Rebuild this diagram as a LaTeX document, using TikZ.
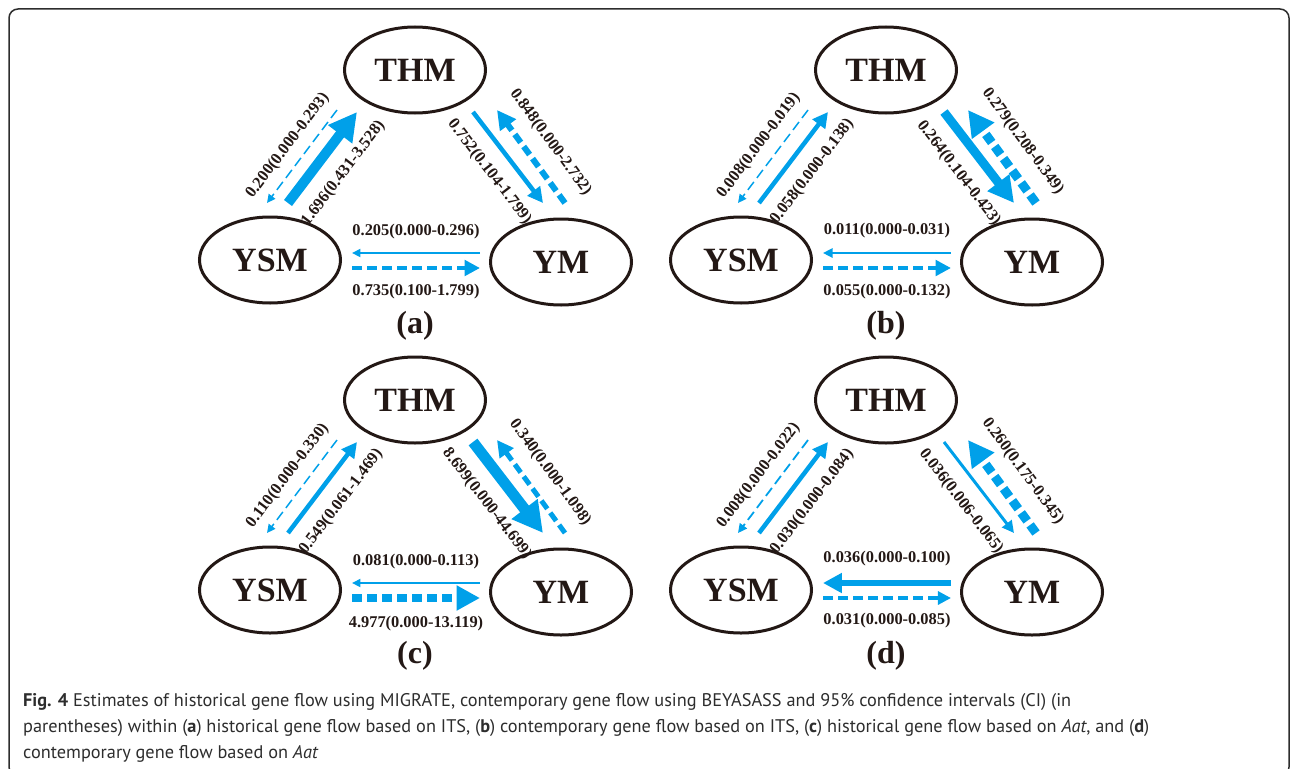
\documentclass[tikz,border=0pt]{standalone}
\usepackage{fontspec}
\setmainfont{Liberation Serif}
\newfontfamily\capfont{PT Sans}
\usetikzlibrary{arrows.meta,calc,shapes.geometric}

\definecolor{flowblue}{RGB}{0,160,233}
\definecolor{inkdark}{RGB}{35,24,21}
\definecolor{capgray}{RGB}{45,45,45}

\tikzset{
	pop/.style={draw=inkdark, ellipse, line width=3pt, minimum width=141pt, minimum height=86pt, inner sep=0pt, text=inkdark, font=\fontsize{34}{40}\selectfont\bfseries},
	flow/.style={draw=flowblue, -{Triangle[length=5pt 2.3, width=4.5pt 2.4]}},
	dashflow/.style={flow, dash pattern=on 10pt off 5pt},
	lab/.style={midway, sloped, inner sep=0pt, text=inkdark, font=\fontsize{16.4}{18}\selectfont\bfseries},
	tag/.style={inner sep=0pt, text=inkdark, font=\fontsize{32}{36}\selectfont\bfseries}
}

% three populations, panel letter and the arrow ends of one panel
\newcommand{\flowpanel}[4]{
	\node[pop] (#1thm) at (415+#2,70+#3) {THM};
	\node[pop] (#1ysm) at (270+#2,260+#3) {YSM};
	\node[pop] (#1ym) at (561+#2,262+#3) {YM};
	\node[tag] (#1tag) at (415+#2,326+#3) {(#4)};
	\coordinate (#1t1) at ($(#1thm)+(-78,40)$);
	\coordinate (#1s1) at ($(#1ysm)+(-3,-57)$);
	\coordinate (#1s2) at ($(#1ysm)+(18,-57)$);
	\coordinate (#1t2) at ($(#1thm)+(-58,42)$);
	\coordinate (#1t3) at ($(#1thm)+(58,42)$);
	\coordinate (#1m1) at ($(#1ym)+(-18,-59)$);
	\coordinate (#1m2) at ($(#1ym)+(4,-59)$);
	\coordinate (#1t4) at ($(#1thm)+(82,40)$);
	\coordinate (#1m3) at ($(#1ym)+(-81,-9)$);
	\coordinate (#1s3) at ($(#1ysm)+(82,-7)$);
	\coordinate (#1s4) at ($(#1ysm)+(82,8)$);
	\coordinate (#1m4) at ($(#1ym)+(-81,6)$);
}

\begin{document}
\begin{tikzpicture}[x=1pt, y=-1pt]
	\useasboundingbox (0,0) rectangle (1292,768);
	\draw[draw=capgray, line width=1.5pt, rounded corners=9pt] (9,9) rectangle (1289,776);

	\flowpanel{a}{0}{0}{a}
	\flowpanel{b}{471}{0}{b}
	\flowpanel{c}{0}{330}{c}
	\flowpanel{d}{471}{330}{d}

	% (a)
	\draw[dashflow, line width=1.5pt] (at1) -- (as1) node[lab, above=9.75pt] (al1) {0.200(0.000-0.293)};
	\draw[flow, line width=10pt] (as2) -- (at2) node[lab, below=13.75pt] (al2) {1.696(0.431-3.528)};
	\draw[flow, line width=4.5pt] (at3) -- (am1) node[lab, below=13.75pt] (al3) {0.752(0.104-1.799)};
	\draw[dashflow, line width=6pt] (am2) -- (at4) node[lab, above=13.75pt] (al4) {0.848(0.000-2.732)};
	\draw[flow, line width=1.5pt] (am3) -- (as3) node[lab, above=13.75pt] (al5) {0.205(0.000-0.296)};
	\draw[dashflow, line width=4.5pt] (as4) -- (am4) node[lab, below=13.75pt] (al6) {0.735(0.100-1.799)};

	% (b)
	\draw[dashflow, line width=1.5pt] (bt1) -- (bs1) node[lab, above=9.75pt] (bl1) {0.008(0.000-0.019)};
	\draw[flow, line width=4.5pt] (bs2) -- (bt2) node[lab, below=13.75pt] (bl2) {0.058(0.000-0.138)};
	\draw[flow, line width=9pt] (bt3) -- (bm1) node[lab, below=13.75pt] (bl3) {0.264(0.104-0.423)};
	\draw[dashflow, line width=9pt] (bm2) -- (bt4) node[lab, above=13.75pt] (bl4) {0.279(0.208-0.349)};
	\draw[flow, line width=2pt] (bm3) -- (bs3) node[lab, above=13.75pt] (bl5) {0.011(0.000-0.031)};
	\draw[dashflow, line width=4.5pt] (bs4) -- (bm4) node[lab, below=13.75pt] (bl6) {0.055(0.000-0.132)};

	% (c)
	\draw[dashflow, line width=1.5pt] (ct1) -- (cs1) node[lab, above=9.75pt] (cl1) {0.110(0.000-0.330)};
	\draw[flow, line width=4.5pt] (cs2) -- (ct2) node[lab, below=13.75pt] (cl2) {0.549(0.061-1.469)};
	\draw[flow, line width=11pt] (ct3) -- (cm1) node[lab, below=13.75pt] (cl3) {8.699(0.000-44.699)};
	\draw[dashflow, line width=5pt] (cm2) -- (ct4) node[lab, above=13.75pt] (cl4) {0.340(0.000-1.098)};
	\draw[flow, line width=1.5pt] (cm3) -- (cs3) node[lab, above=13.75pt] (cl5) {0.081(0.000-0.113)};
	\draw[dashflow, line width=8pt] (cs4) -- (cm4) node[lab, below=13.75pt] (cl6) {4.977(0.000-13.119)};

	% (d)
	\draw[dashflow, line width=1.8pt] (dt1) -- (ds1) node[lab, above=9.75pt] (dl1) {0.008(0.000-0.022)};
	\draw[flow, line width=4.5pt] (ds2) -- (dt2) node[lab, below=13.75pt] (dl2) {0.030(0.000-0.084)};
	\draw[flow, line width=3pt] (dt3) -- (dm1) node[lab, below=13.75pt] (dl3) {0.036(0.006-0.065)};
	\draw[dashflow, line width=9pt] (dm2) -- (dt4) node[lab, above=13.75pt] (dl4) {0.260(0.175-0.345)};
	\draw[flow, line width=6pt] (dm3) -- (ds3) node[lab, above=13.75pt] (dl5) {0.036(0.000-0.100)};
	\draw[dashflow, line width=3.5pt] (ds4) -- (dm4) node[lab, below=13.75pt] (dl6) {0.031(0.000-0.085)};

	\node[anchor=base west, align=left, inner sep=0pt, text=capgray, font=\capfont\fontsize{18.3}{26}\selectfont] (caption) at (23,758)
		{\textbf{Fig. 4} Estimates of historical gene flow using MIGRATE, contemporary gene flow using BEYASASS and 95\% confidence intervals (CI) (in\\
		parentheses) within (\textbf{a}) historical gene flow based on ITS, (\textbf{b}) contemporary gene flow based on ITS, (\textbf{c}) historical gene flow based on \textit{Aat}, and (\textbf{d})\\
		contemporary gene flow based on \textit{Aat}};
\end{tikzpicture}
\end{document}
